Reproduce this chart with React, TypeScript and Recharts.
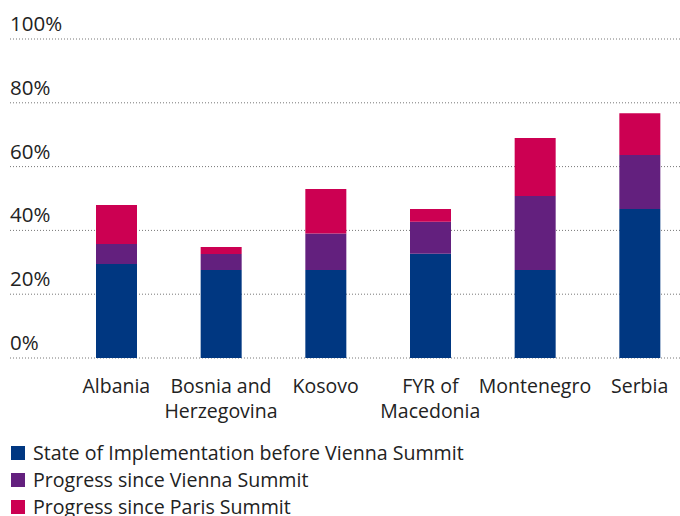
import React from 'react'
import { BarChart, Bar, XAxis, YAxis, CartesianGrid } from 'recharts'

const countries = ['Albania', 'Bosnia and|Herzegovina', 'Kosovo', 'FYR of|Macedonia', 'Montenegro', 'Serbia']
const beforeVienna = [29.5, 27.6, 27.6, 32.7, 27.6, 46.7]
const sinceVienna = [6.2, 5.0, 11.4, 10.0, 23.2, 16.9]
const sinceParis = [12.3, 2.2, 14.0, 4.0, 18.2, 13.1]
const yTicks = [0, 20, 40, 60, 80, 100]

const seriesNames = [
  'State of Implementation before Vienna Summit',
  'Progress since Vienna Summit',
  'Progress since Paris Summit'
]
const seriesColors = ['#003781', '#63207e', '#cc0052']

const data = countries.map((name, i) => ({
  name,
  before: beforeVienna[i],
  vienna: sinceVienna[i],
  paris: sinceParis[i]
}))

const FONT = '"Open Sans", sans-serif'
const TEXT = '#222'

const YTick = ({ y, payload }: any) => (
  <text x={10} y={y - 8} textAnchor="start" fontSize={20.5} fontFamily={FONT} fill={TEXT}>
    {payload.value}%
  </text>
)

const XTick = ({ x, y, payload }: any) => {
  const lines = String(payload.value).split('|')
  return (
    <text x={x} y={y + 27} textAnchor="middle" fontSize={19.5} fontFamily={FONT} fill={TEXT}>
      {lines.map((l, i) => (
        <tspan key={i} x={x} dy={i === 0 ? 0 : 25}>
          {l}
        </tspan>
      ))}
    </text>
  )
}

export default function App() {
  return (
    <div style={{ position: 'absolute', left: 0, top: 0, width: 680, height: 516, overflow: 'hidden', background: '#fff' }}>
      <BarChart
        width={700}
        height={516}
        data={data}
        margin={{ top: 39, right: 8, left: 10, bottom: 98 }}
      >
        <CartesianGrid vertical={false} stroke="#777" strokeDasharray="1 2" />
        <XAxis
          dataKey="name"
          axisLine={false}
          tickLine={false}
          interval={0}
          height={60}
          padding={{ left: 54, right: 0 }}
          tick={<XTick />}
        />
        <YAxis
          mirror
          domain={[0, 100]}
          ticks={yTicks}
          axisLine={false}
          tickLine={false}
          tick={<YTick />}
        />
        <Bar dataKey="before" stackId="a" fill={seriesColors[0]} barSize={41} isAnimationActive={false} />
        <Bar dataKey="vienna" stackId="a" fill={seriesColors[1]} barSize={41} isAnimationActive={false} />
        <Bar dataKey="paris" stackId="a" fill={seriesColors[2]} barSize={41} isAnimationActive={false} />
      </BarChart>
      <div style={{ position: 'absolute', left: 11, top: 439, fontFamily: FONT, fontSize: 19.6, color: TEXT }}>
        {seriesNames.map((n, i) => (
          <div key={n} style={{ display: 'flex', alignItems: 'center', height: 27 }}>
            <span style={{ width: 14, height: 14, background: seriesColors[i], marginRight: 8, display: 'inline-block', flexShrink: 0 }} />
            <span>{n}</span>
          </div>
        ))}
      </div>
    </div>
  )
}
